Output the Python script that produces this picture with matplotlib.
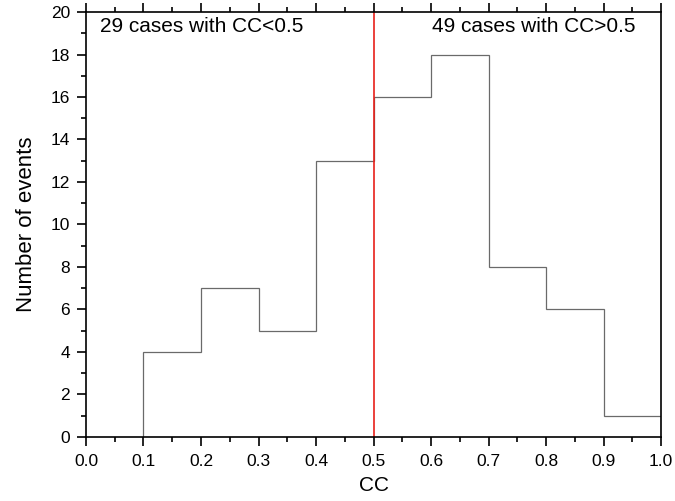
import numpy as np
import matplotlib.pyplot as plt
from matplotlib.ticker import MultipleLocator

plt.rcParams['font.family'] = ['Liberation Sans', 'DejaVu Sans']

edges = [0.1, 0.2, 0.3, 0.4, 0.5, 0.6, 0.7, 0.8, 0.9, 1.0]
counts = [4, 7, 5, 13, 16, 18, 8, 6, 1]
cut = 0.5
left_text = '29 cases with CC<0.5'
right_text = '49 cases with CC>0.5'

fig = plt.figure(figsize=(6.75, 5.01), dpi=100)
ax = fig.add_axes([0.1274, 0.128, 0.8519, 0.848])

ax.stairs(counts, edges, baseline=0, color='#6a6a6a', linewidth=0.9)
ax.axvline(cut, color='#e8201a', linewidth=1.2)

ax.set_xlim(0, 1.0)
ax.set_ylim(0, 20)
ax.xaxis.set_major_locator(MultipleLocator(0.1))
ax.xaxis.set_minor_locator(MultipleLocator(0.05))
ax.yaxis.set_major_locator(MultipleLocator(2))
ax.yaxis.set_minor_locator(MultipleLocator(1))
ax.xaxis.set_major_formatter(plt.FormatStrFormatter('%.1f'))

ax.tick_params(which='both', direction='out', top=True, right=False, labelsize=12.5, width=1.2)
ax.tick_params(which='major', length=6.5)
ax.tick_params(which='minor', length=3.5)
ax.tick_params(axis='x', pad=6)
ax.tick_params(axis='y', pad=5)
for s in ax.spines.values():
    s.set_linewidth(1.2)

ax.text(0.025, 19.3, left_text, fontsize=15, va='center')
ax.text(0.955, 19.3, right_text, fontsize=15, va='center', ha='right')

ax.set_xlabel('CC', fontsize=15, labelpad=5)
ax.set_ylabel('Number of events', fontsize=16, labelpad=10)

fig.savefig('out.png', dpi=100)
